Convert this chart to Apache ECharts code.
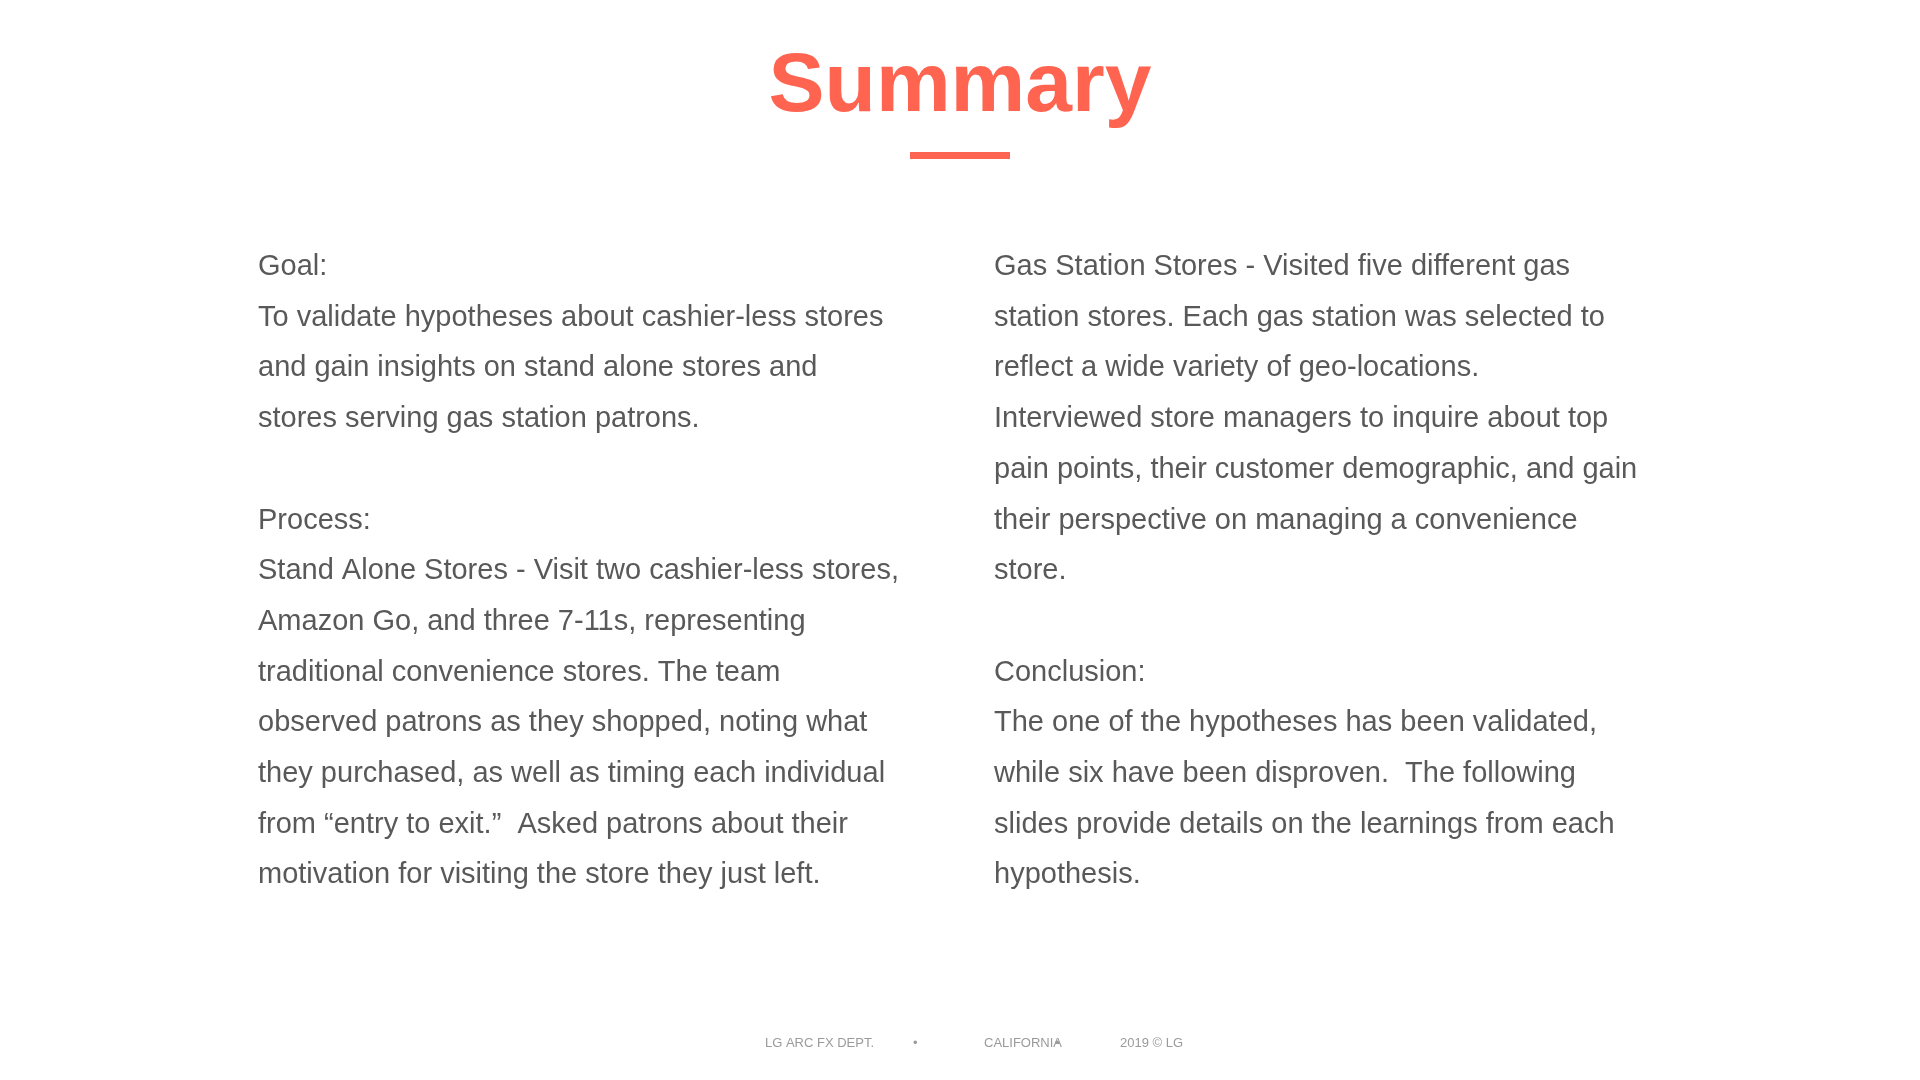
<!DOCTYPE html>
<html><head><meta charset="utf-8">
<script src="https://cdn.jsdelivr.net/npm/echarts@6/dist/echarts.min.js"></script>
<style>html,body{margin:0;padding:0;background:#fff}#c{width:1920px;height:1080px}</style>
</head><body><div id="c"></div>
<script>
const title = 'Summary';
const leftLines = [
 'Goal:',
 'To validate hypotheses about cashier-less stores',
 'and gain insights on stand alone stores and',
 'stores serving gas station patrons.',
 '',
 'Process:',
 'Stand Alone Stores - Visit two cashier-less stores,',
 'Amazon Go, and three 7-11s, representing',
 'traditional convenience stores. The team',
 'observed patrons as they shopped, noting what',
 'they purchased, as well as timing each individual',
 'from \u201centry to exit.\u201d  Asked patrons about their',
 'motivation for visiting the store they just left.'
];
const rightLines = [
 'Gas Station Stores - Visited five different gas',
 'station stores. Each gas station was selected to',
 'reflect a wide variety of geo-locations.',
 'Interviewed store managers to inquire about top',
 'pain points, their customer demographic, and gain',
 'their perspective on managing a convenience',
 'store.',
 '',
 'Conclusion:',
 'The one of the hypotheses has been validated,',
 'while six have been disproven.  The following',
 'slides provide details on the learnings from each',
 'hypothesis.'
];
const footer = ['LG ARC FX DEPT.', '\u2022', 'CALIFORNIA', '\u2022', '2019 \u00a9 LG'];
const footerX = [765, 913, 984, 1055, 1120];

const chart = echarts.init(document.getElementById('c'));
const els = [];
els.push({type:'text', x:960, y:88, style:{text:title, fill:'#FF6450', font:'bold 84px "Liberation Sans", Arial, sans-serif', align:'center', verticalAlign:'middle'}});
els.push({type:'rect', shape:{x:910, y:152, width:100, height:7}, style:{fill:'#FF6450'}});
const bodyFont = '29px "Liberation Sans", Arial, sans-serif';
leftLines.forEach((t,i)=>{ if(t) els.push({type:'text', x:258, y:267+i*50.7, style:{text:t, fill:'#595959', font:bodyFont, verticalAlign:'middle'}}); });
rightLines.forEach((t,i)=>{ if(t) els.push({type:'text', x:994, y:267+i*50.7, style:{text:t, fill:'#595959', font:bodyFont, verticalAlign:'middle'}}); });
footer.forEach((t,i)=>els.push({type:'text', x:footerX[i], y:1043, style:{text:t, fill:'#9a9a9a', font:'13px "Liberation Sans", Arial, sans-serif', verticalAlign:'middle'}}));
chart.setOption({graphic:{elements:els}});
</script></body></html>
